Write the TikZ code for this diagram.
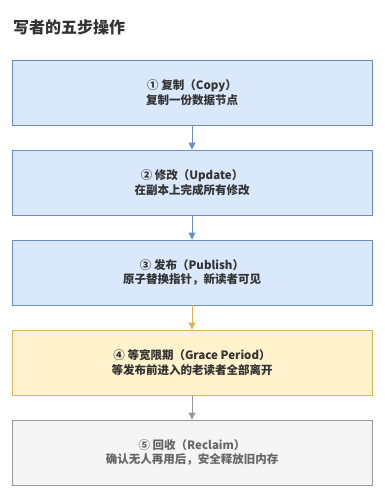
\documentclass[tikz,border=0pt]{standalone}
\usepackage{fontspec}
\setmainfont{Noto Sans CJK SC}
\usetikzlibrary{arrows.meta}
\definecolor{bluefill}{HTML}{DAE8FC}
\definecolor{blueline}{HTML}{6C8EBF}
\definecolor{yellowfill}{HTML}{FFF2CC}
\definecolor{yellowline}{HTML}{D6B656}
\definecolor{grayfill}{HTML}{F5F5F5}
\definecolor{grayline}{HTML}{999999}
\definecolor{inktext}{HTML}{333333}
\definecolor{greytext}{HTML}{666666}
\begin{document}
\begin{tikzpicture}[
        x=1pt, y=1pt,
        stepbox/.style ={draw, line width=0.9pt, minimum width=360pt, minimum height=65pt,
                         align=center, inner sep=2pt, text=inktext,
                         font=\fontsize{11.5}{14.5}\selectfont\bfseries},
        bluebox/.style ={stepbox, fill=bluefill, draw=blueline},
        yellowbox/.style={stepbox, fill=yellowfill, draw=yellowline},
        graybox/.style ={stepbox, fill=grayfill, draw=grayline, text=greytext},
        arr/.style     ={-{Triangle[length=7pt, width=7pt]}, line width=0.9pt},
    ]
    %% Canvas
    \fill[white] (0,0) rectangle (384,-498);
    \useasboundingbox (0,0) rectangle (384,-498);

    %% Title
    \node[anchor=west, inner sep=0pt, text=inktext, font=\fontsize{16}{19}\selectfont\bfseries]
        (title) at (13,-27) {写者的五步操作};

    %% Steps
    \node[bluebox]   (copy)    at (192, -92.5)  {① 复制（Copy）\\复制一份数据节点};
    \node[bluebox]   (update)  at (192, -182.5) {② 修改（Update）\\在副本上完成所有修改};
    \node[bluebox]   (publish) at (192, -272.5) {③ 发布（Publish）\\原子替换指针，新读者可见};
    \node[yellowbox] (grace)   at (192, -362.5) {④ 等宽限期（Grace Period）\\等发布前进入的老读者全部离开};
    \node[graybox]   (reclaim) at (192, -452.5) {⑤ 回收（Reclaim）\\确认无人再用后，安全释放旧内存};

    %% Arrows between steps
    \foreach \src/\dst/\col in {copy/update/blueline, update/publish/blueline,
                                publish/grace/yellowline, grace/reclaim/grayline}
        \draw[arr, draw=\col, fill=\col] (\src.south) -- (\dst.north);

\end{tikzpicture}
\end{document}
